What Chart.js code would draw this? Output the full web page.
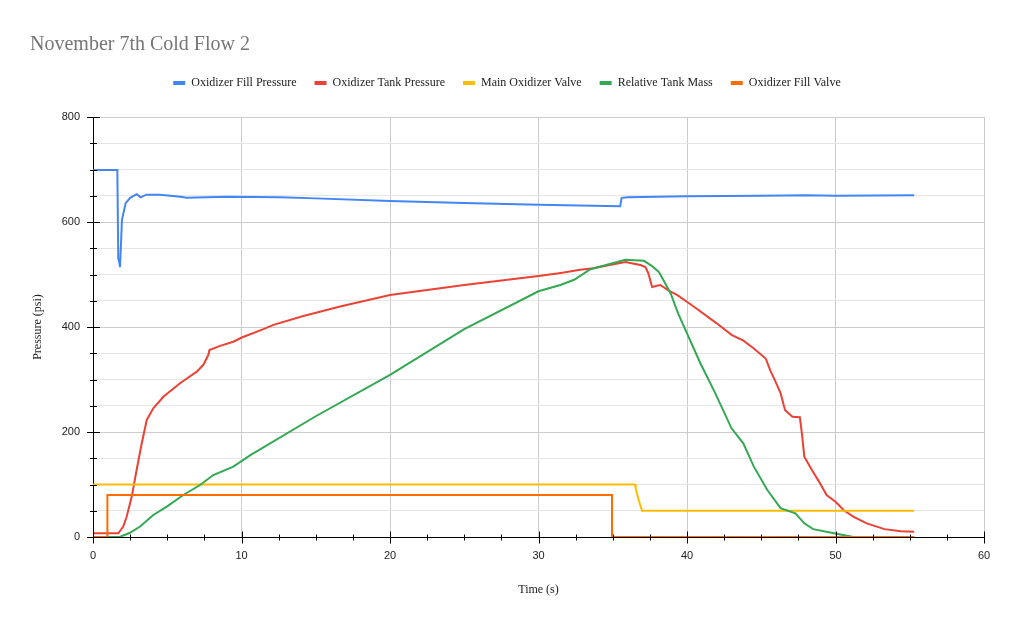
<!DOCTYPE html>
<html>
<head>
<meta charset="utf-8">
<title>November 7th Cold Flow 2</title>
<script src="https://cdn.jsdelivr.net/npm/chart.js@4.4.1/dist/chart.umd.min.js"></script>
<style>
  html, body { margin: 0; padding: 0; background: #fff; }
  #wrap { width: 1015px; height: 627px; position: relative; }
</style>
</head>
<body>
<div id="wrap"><canvas id="myChart"></canvas></div>
<script>
// values (time in s, pressure in psi)
var fillPressureTime = [0, 1.64, 1.7, 1.76, 1.82, 1.95, 2.2, 2.5, 2.95, 3.2, 3.6, 4.5, 5.9, 6.3, 9, 12.6, 15, 20, 25, 30, 35.5, 35.6, 36, 40, 45, 48, 50, 55.3];
var fillPressure = [699, 699, 531, 525, 514, 604, 636, 646, 653, 647, 652, 652, 648, 646, 648, 647, 645, 640, 636, 633, 630, 646, 647, 649, 650, 651, 650, 651];

var tankTime = [0, 1.7, 2.04, 2.27, 2.61, 2.94, 3.28, 3.62, 4.06, 4.74, 5.86, 6.99, 7.43, 7.77, 7.84, 8.56, 9.45, 10.02, 11.48, 12.15, 14.17, 16.64, 20, 25, 30, 31.5, 32.8, 33.7, 34.8, 35.85, 36.86, 37.2, 37.4, 37.65, 37.9, 38.2, 38.8, 39.33, 40.45, 42.0, 43.0, 43.8, 44.5, 45.3, 45.6, 45.96, 46.3, 46.6, 47.1, 47.6, 47.75, 47.9, 48.4, 48.9, 49.4, 50.0, 50.56, 51.2, 52.1, 53.3, 54.4, 55.3];
var tankPressure = [7, 7, 20, 39, 77, 128, 178, 223, 245, 267, 293, 315, 328, 347, 356, 364, 372, 380, 396, 404, 421, 439, 461, 480, 497, 503, 509, 512, 518, 524, 518, 514, 502, 476, 478, 480, 469, 461, 439, 407, 385, 374, 359, 340, 318, 296, 274, 242, 229, 228, 194, 153, 128, 105, 80, 67, 51, 39, 26, 15, 11, 10];

var mainValveTime = [0, 36.5, 36.55, 36.75, 36.97, 55.3];
var mainValve = [100, 100, 92, 70, 50, 50];

var massTime = [0, 1.2, 1.8, 2.49, 3.17, 4.06, 4.97, 6.08, 7.21, 8.1, 9.45, 10.6, 15, 20, 25, 30, 31.47, 32.4, 33.5, 34.8, 35.85, 37.1, 37.65, 38.1, 38.4, 38.9, 39.4, 40.0, 40.9, 41.9, 43.0, 43.8, 44.5, 45.4, 46.3, 47.3, 47.9, 48.5, 49.9, 51.2, 55.3];
var tankMass = [0, 0, 0, 8, 20, 42, 58, 80, 99, 118, 134, 156, 230, 309, 396, 468, 480, 490, 510, 520, 528, 526, 516, 505, 490, 464, 426, 388, 331, 274, 207, 178, 134, 90, 55, 45, 26, 15, 7, 0, 0];

var fillValveTime = [0, 0.97, 0.97, 34.95, 34.95, 55.3];
var fillValve = [0, 0, 80, 80, 0, 0];

var seriesNames = ['Oxidizer Fill Pressure', 'Oxidizer Tank Pressure', 'Main Oxidizer Valve', 'Relative Tank Mass', 'Oxidizer Fill Valve'];
var seriesColors = ['#4285F4', '#EA4335', '#FBBC04', '#34A853', '#FF6D01'];

function toPoints(xs, ys) {
    var pts = [];
    for (var i = 0; i < xs.length; i++) {
        pts.push({ x: xs[i], y: ys[i] });
    }
    return pts;
}

var seriesData = [
    toPoints(fillPressureTime, fillPressure),
    toPoints(tankTime, tankPressure),
    toPoints(mainValveTime, mainValve),
    toPoints(massTime, tankMass),
    toPoints(fillValveTime, fillValve)
];

var datasets = [];
for (var i = 0; i < seriesNames.length; i++) {
    datasets.push({
        label: seriesNames[i],
        data: seriesData[i],
        borderColor: seriesColors[i],
        backgroundColor: seriesColors[i],
        borderWidth: 2,
        pointRadius: 0,
        tension: 0,
        fill: false,
        order: seriesNames.length - i   // later series on top
    });
}

// short black tick marks crossing the axes, like the original
var tickMarks = {
    id: 'tickMarks',
    afterDatasetsDraw: function (chart) {
        var ctx = chart.ctx;
        var x = chart.scales.x;
        var y = chart.scales.y;
        ctx.save();
        ctx.strokeStyle = '#000';
        ctx.lineWidth = 1;
        ctx.beginPath();
        var ax = Math.round(x.left) + 0.5;
        y.ticks.forEach(function (t) {
            var py = Math.round(y.getPixelForValue(t.value)) + 0.5;
            var len = t.value % 200 === 0 ? 6.5 : 3.5;
            ctx.moveTo(ax - len, py);
            ctx.lineTo(ax + len, py);
        });
        var ay = Math.round(y.bottom) + 0.5;
        x.ticks.forEach(function (t) {
            var px = Math.round(x.getPixelForValue(t.value)) + 0.5;
            var len = t.value % 10 === 0 ? 6 : 3;
            ctx.moveTo(px, ay - len);
            ctx.lineTo(px, ay + len);
        });
        ctx.stroke();
        ctx.restore();
    }
};

var whiteBg = {
    id: 'whiteBg',
    beforeDraw: function (chart) {
        var ctx = chart.ctx;
        ctx.save();
        ctx.fillStyle = '#fff';
        ctx.fillRect(0, 0, chart.width, chart.height);
        ctx.restore();
    }
};

new Chart('myChart', {
    type: 'line',
    data: { datasets: datasets },
    plugins: [whiteBg, tickMarks],
    options: {
        responsive: true,
        maintainAspectRatio: false,
        animation: false,
        devicePixelRatio: 1,
        layout: { padding: { left: 30, right: 31, top: 30, bottom: 30 } },
        plugins: {
            title: {
                display: true,
                text: 'November 7th Cold Flow 2',
                align: 'start',
                color: '#757575',
                font: { family: 'Liberation Serif', size: 20, weight: 'normal' },
                padding: { top: 3, bottom: 2 }
            },
            // empty subtitle used as a spacer between legend and plot
            subtitle: {
                display: true,
                text: '',
                weight: 500,
                font: { size: 1, lineHeight: 1 },
                padding: { top: 0, bottom: 17 }
            },
            legend: {
                display: true,
                position: 'top',
                labels: {
                    boxWidth: 12,
                    boxHeight: 4,
                    padding: 18,
                    color: '#222',
                    font: { family: 'Liberation Serif', size: 12 },
                    generateLabels: function (chart) {
                        var items = Chart.defaults.plugins.legend.labels.generateLabels(chart);
                        items.forEach(function (it) { it.lineWidth = 0; });
                        items.sort(function (a, b) { return a.datasetIndex - b.datasetIndex; });
                        return items;
                    }
                }
            },
            tooltip: { enabled: false }
        },
        scales: {
            x: {
                type: 'linear',
                min: 0,
                max: 60,
                afterFit: function (scale) { scale.height = 60; },
                border: { color: '#000', width: 1 },
                grid: {
                    drawTicks: false,
                    color: function (c) { return c.tick && c.tick.value % 10 === 0 ? '#cccccc' : 'rgba(0,0,0,0)'; }
                },
                ticks: {
                    stepSize: 2.5,
                    autoSkip: false,
                    maxRotation: 0,
                    padding: 12,
                    color: '#222',
                    font: { family: 'Liberation Sans', size: 11 },
                    callback: function (v) { return v % 10 === 0 ? v : ''; }
                },
                title: {
                    display: true,
                    text: 'Time (s)',
                    color: '#222',
                    font: { family: 'Liberation Serif', size: 12 },
                    padding: 0
                }
            },
            y: {
                min: 0,
                max: 800,
                afterFit: function (scale) { scale.width = 63; },
                border: { color: '#000', width: 1 },
                grid: {
                    drawTicks: false,
                    color: function (c) { return c.tick && c.tick.value % 200 === 0 ? '#cccccc' : '#e6e6e6'; }
                },
                ticks: {
                    stepSize: 50,
                    autoSkip: false,
                    padding: 13,
                    color: '#222',
                    font: { family: 'Liberation Sans', size: 11 },
                    callback: function (v) { return v % 200 === 0 ? v : ''; }
                },
                title: {
                    display: true,
                    text: 'Pressure (psi)',
                    color: '#222',
                    font: { family: 'Liberation Serif', size: 12 },
                    padding: 1
                }
            }
        }
    }
});
</script>
</body>
</html>
